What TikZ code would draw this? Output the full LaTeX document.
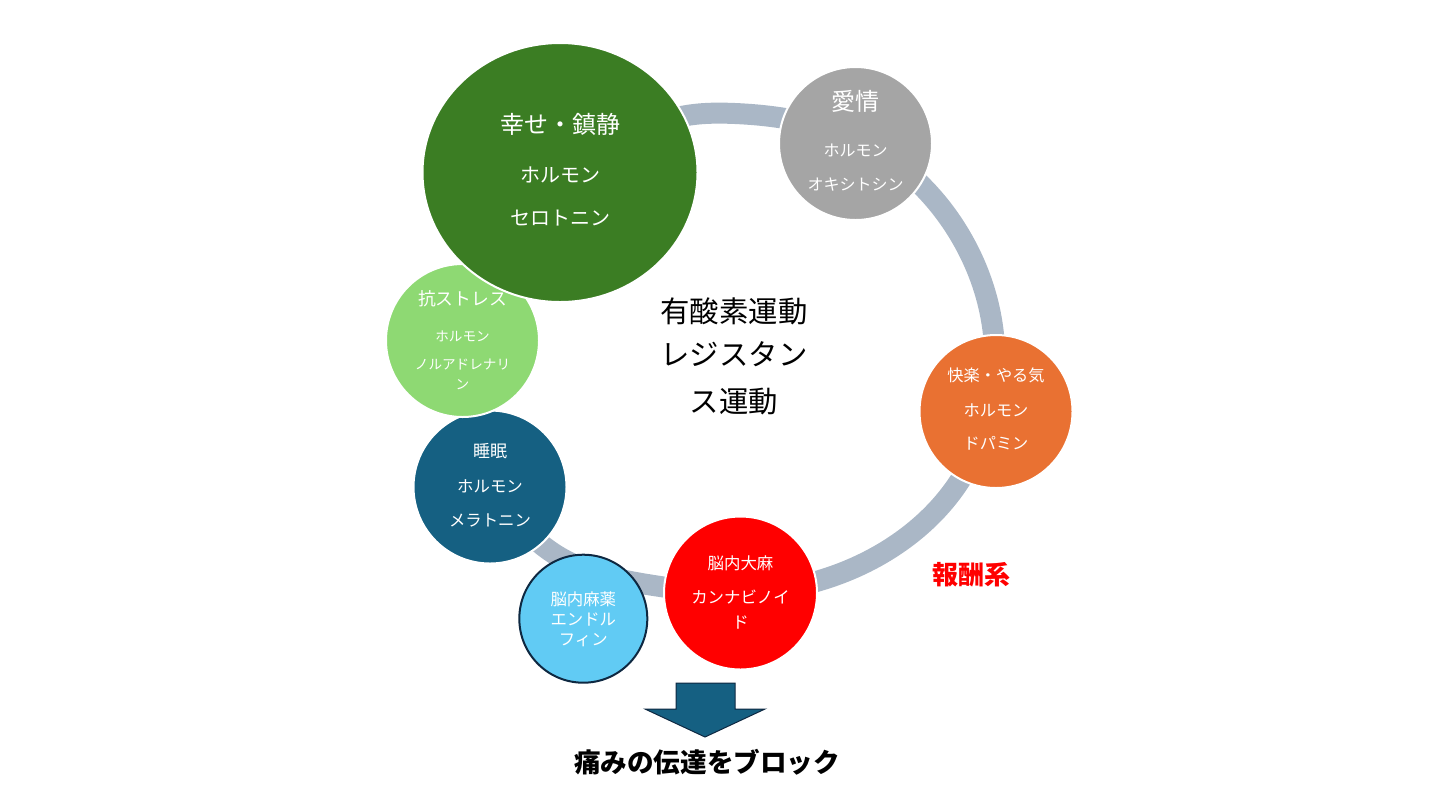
\documentclass[tikz,border=0pt]{standalone}
\usepackage{fontspec}
\setmainfont{Noto Sans CJK JP}
\usetikzlibrary{shapes.geometric,hobby}
\definecolor{ringc}{RGB}{170,183,198}
\definecolor{cgreen}{HTML}{3B7D23}
\definecolor{cgrey}{HTML}{A5A5A5}
\definecolor{clgreen}{HTML}{8ED973}
\definecolor{corange}{HTML}{E97132}
\definecolor{cdblue}{HTML}{156082}
\definecolor{clblue}{HTML}{61CBF4}
\definecolor{cnavy}{HTML}{0E2841}
\begin{document}
\begin{tikzpicture}[x=0.5pt,y=-0.5pt,
  bub/.style={circle, draw=white, line width=1pt, minimum size=76.5pt, inner sep=0pt},
  txt/.style={text=white, inner sep=0pt, text height=0.88em, text depth=0.12em},
  fz/.style={font=\fontsize{#1pt}{#1pt}\selectfont},
  fzb/.style={font=\fontsize{#1pt}{#1pt}\selectfont\bfseries},
  ring/.style={draw=ringc, line width=10.5pt},
  bigarrow/.style={fill=cdblue, draw=cnavy, line width=0.5pt, line join=miter}]
\useasboundingbox (0,0) rectangle (1440,810);
% ring
\draw[ring, use Hobby shortcut, closed=true]
  (735,113.5) .. (865,144) .. (961,237) .. (992,323) .. (989,411) .. (957,485)
  .. (900,542) .. (818,581) .. (740,593) .. (657,586) .. (550,551)
  .. (475,430) .. (470,310) .. (560,185) .. (690,115);
% circles
\node[bub, fill=cdblue] (sleep) at (490,487) {};
\node[bub, fill=clgreen] (stress) at (462.5,340.5) {};
\node[bub, ellipse, fill=cgreen, minimum width=137.5pt, minimum height=129.5pt] (happy) at (560,172.5) {};
\node[bub, fill=cgrey] (love) at (855.5,143.5) {};
\node[bub, fill=corange] (joy) at (996,411.5) {};
\node[bub, fill=red] (canna) at (740.5,593) {};
\node[circle, draw=cnavy, line width=1pt, fill=clblue, minimum size=64pt, inner sep=0pt] (endo) at (583.3,618.7) {};
% texts: happy
\node[txt, fz=12] (h1) at (560,126) {幸せ・鎮静};
\node[txt, fz=10] (h2) at (560,175) {ホルモン};
\node[txt, fz=10] (h3) at (560,218) {セロトニン};
% love
\node[txt, fz=12] (l1) at (855.5,103) {愛情};
\node[txt, fz=8] (l2) at (855.5,149) {ホルモン};
\node[txt, fz=8] (l3) at (855.5,183) {オキシトシン};
% stress
\node[txt, fz=8.9] (s1) at (462.5,298) {抗ストレス};
\node[txt, fz=6.8] (s2) at (462.5,334) {ホルモン};
\node[txt, fz=6.8] (s3) at (462.5,362) {ノルアドレナリ};
\node[txt, fz=6.8] (s4) at (462.5,382) {ン};
% joy
\node[txt, fz=8.1] (j1) at (996,374) {快楽・やる気};
\node[txt, fz=8.1] (j2) at (996,409) {ホルモン};
\node[txt, fz=8.1] (j3) at (996,442) {ドパミン};
% sleep
\node[txt, fz=8.5] (z1) at (490,450) {睡眠};
\node[txt, fz=8.2] (z2) at (490,485) {ホルモン};
\node[txt, fz=8.2] (z3) at (490,519) {メラトニン};
% endorphin
\node[txt, fz=8.2] (e1) at (583.3,598) {脳内麻薬};
\node[txt, fz=8.2] (e2) at (583.3,618) {エンドル};
\node[txt, fz=8.2] (e3) at (583.3,638) {フィン};
% cannabinoid
\node[txt, fz=8.2] (c1) at (740.5,562) {脳内大麻};
\node[txt, fz=8.2] (c2) at (740.5,596) {カンナビノイ};
\node[txt, fz=8.2] (c3) at (740.5,621) {ド};
% center
\node[txt, text=black, fz=14.7] (m1) at (734,315) {有酸素運動};
\node[txt, text=black, fz=14.7] (m2) at (734,358) {レジスタン};
\node[txt, text=black, fz=14.7] (m3) at (734,405) {ス運動};
% reward
\node[txt, text=red, fzb=13] (reward) at (971,577) {報酬系};
% arrow
\draw[bigarrow] (676,683) -- (735,683) -- (735,709) -- (765,709) -- (705,737) -- (645,709) -- (676,709) -- cycle;
\node[txt, text=black, fzb=13.3] (block) at (707,765) {痛みの伝達をブロック};
\end{tikzpicture}
\end{document}
